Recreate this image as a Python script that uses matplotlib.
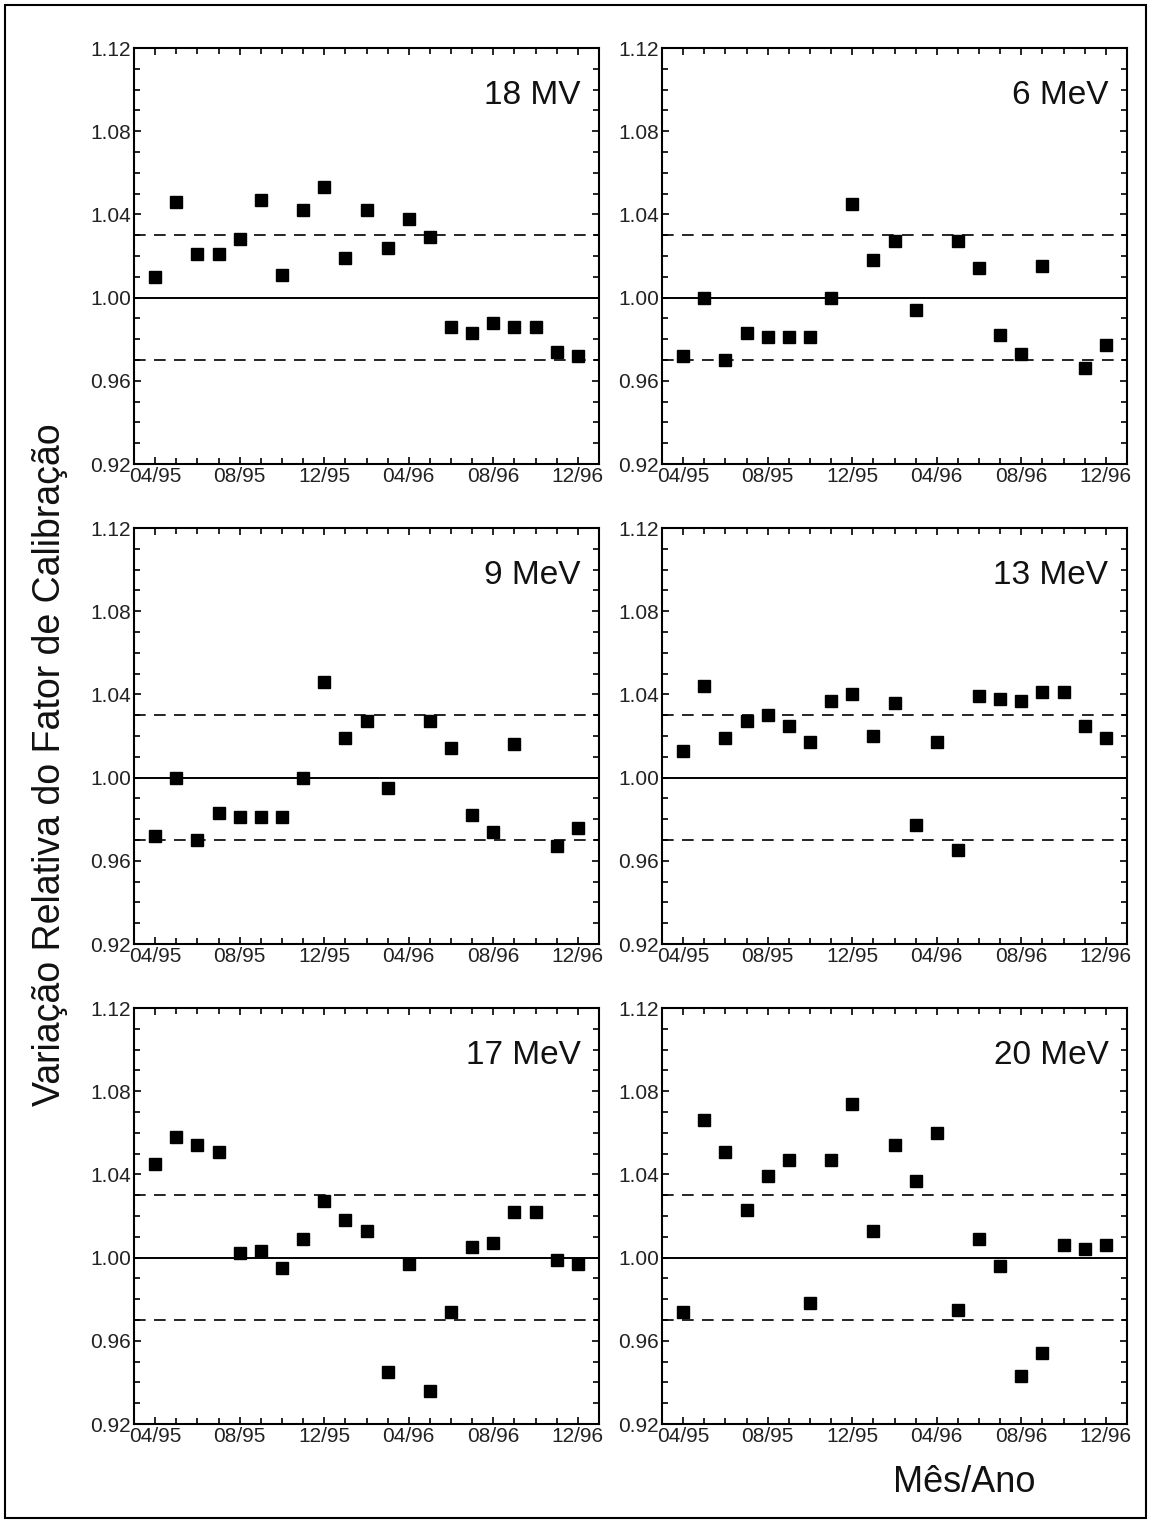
import numpy as np
import matplotlib.pyplot as plt
from matplotlib.patches import Rectangle
from matplotlib.ticker import MultipleLocator

plt.rcParams['font.family'] = ['Liberation Sans', 'DejaVu Sans']

# months 04/95 .. 12/96, one point per month (nan = no measurement)
months = np.arange(21)
tick_pos = [0, 4, 8, 12, 16, 20]
tick_lab = ['04/95', '08/95', '12/95', '04/96', '08/96', '12/96']

nan = np.nan
mv18 = [1.010, 1.046, 1.021, 1.021, 1.028, 1.047, 1.011, 1.042, 1.053, 1.019, 1.042,
        1.024, 1.038, 1.029, 0.986, 0.983, 0.988, 0.986, 0.986, 0.974, 0.972]
mev6 = [0.972, 1.000, 0.970, 0.983, 0.981, 0.981, 0.981, 1.000, 1.045, 1.018, 1.027,
        0.994, nan, 1.027, 1.014, 0.982, 0.973, 1.015, nan, 0.966, 0.977]
mev9 = [0.972, 1.000, 0.970, 0.983, 0.981, 0.981, 0.981, 1.000, 1.046, 1.019, 1.027,
        0.995, nan, 1.027, 1.014, 0.982, 0.974, 1.016, nan, 0.967, 0.976]
mev13 = [1.013, 1.044, 1.019, 1.027, 1.030, 1.025, 1.017, 1.037, 1.040, 1.020, 1.036,
         0.977, 1.017, 0.965, 1.039, 1.038, 1.037, 1.041, 1.041, 1.025, 1.019]
mev17 = [1.045, 1.058, 1.054, 1.051, 1.002, 1.003, 0.995, 1.009, 1.027, 1.018, 1.013,
         0.945, 0.997, 0.936, 0.974, 1.005, 1.007, 1.022, 1.022, 0.999, 0.997]
mev20 = [0.974, 1.066, 1.051, 1.023, 1.039, 1.047, 0.978, 1.047, 1.074, 1.013, 1.054,
         1.037, 1.060, 0.975, 1.009, 0.996, 0.943, 0.954, 1.006, 1.004, 1.006]

panels = [('18 MV', mv18), ('6 MeV', mev6), ('9 MeV', mev9),
          ('13 MeV', mev13), ('17 MeV', mev17), ('20 MeV', mev20)]
yticks = [0.92, 0.96, 1.00, 1.04, 1.08, 1.12]

W, H = 1151, 1522
fig = plt.figure(figsize=(W / 100, H / 100), dpi=100)

lefts = [134, 662]
bottoms = [464, 944, 1424]
aw, ah = 465, 416

for i, (name, vals) in enumerate(panels):
    r, c = divmod(i, 2)
    ax = fig.add_axes([lefts[c] / W, 1 - bottoms[r] / H, aw / W, ah / H])
    ax.axhline(1.0, color='black', lw=1.4)
    ax.axhline(1.03, color='black', lw=1.2, dashes=(7, 5))
    ax.axhline(0.97, color='black', lw=1.2, dashes=(7, 5))
    ax.plot(months, vals, 's', color='black', ms=8, mec='black')
    ax.set_xlim(-1, 21)
    ax.set_ylim(0.92, 1.12)
    ax.set_xticks(tick_pos)
    ax.set_xticklabels(tick_lab)
    ax.xaxis.set_minor_locator(MultipleLocator(1))
    ax.set_yticks(yticks)
    ax.set_yticklabels(['%.2f' % v for v in yticks])
    ax.yaxis.set_minor_locator(MultipleLocator(0.01))
    ax.tick_params(which='both', direction='in', top=True, right=True,
                   labelsize=15, colors='black', labelcolor='#222222')
    ax.tick_params(which='major', length=5, width=1.2, pad=2)
    ax.tick_params(which='minor', length=4, width=1.2)
    for s in ax.spines.values():
        s.set_linewidth(1.5)
    ax.text(0.96, 0.885, name, transform=ax.transAxes, ha='right', va='center',
            fontsize=24, color='#111111')

fig.text(50 / W, 1 - 765 / H, 'Variação Relativa do Fator de Calibração',
         rotation=90, ha='center', va='center', fontsize=27, color='#111111')
fig.text(964 / W, 1 - 1482 / H, 'Mês/Ano', ha='center', va='center',
         fontsize=26, color='#111111')

fig.patches.append(Rectangle((5 / W, 4 / H), 1 - 10 / W, 1 - 9 / H,
                             transform=fig.transFigure, fill=False,
                             edgecolor='black', lw=1.5))

fig.savefig('out.png', dpi=100)
